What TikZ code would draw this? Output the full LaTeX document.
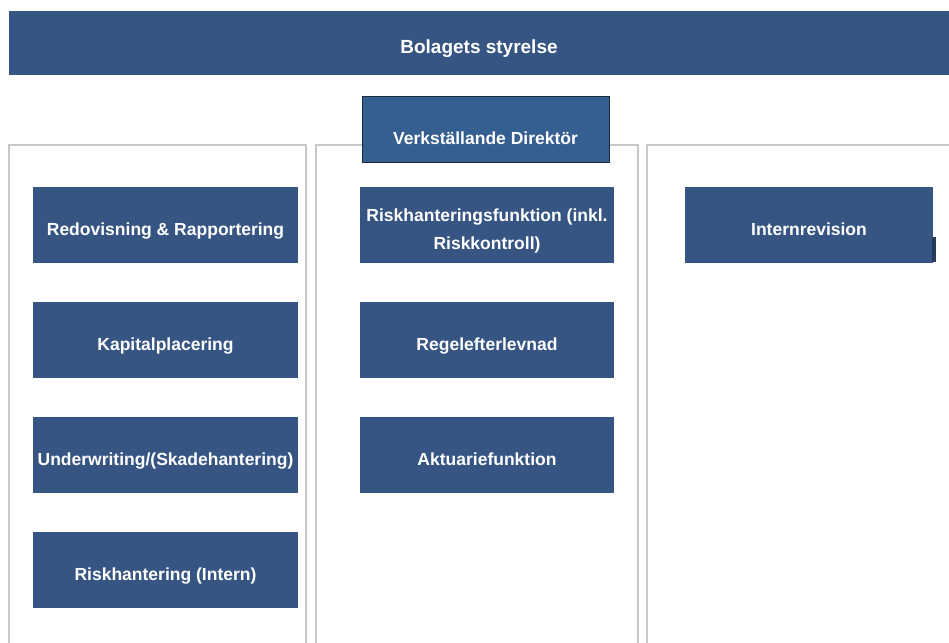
\documentclass[tikz,border=0pt]{standalone}
\usepackage{fontspec}
\setmainfont{Liberation Sans}
\definecolor{boxblue}{RGB}{55,85,131}
\definecolor{vdblue}{RGB}{53,94,145}
\definecolor{vdedge}{RGB}{30,42,60}
\definecolor{colgray}{RGB}{200,200,200}
\begin{document}
\begin{tikzpicture}[x=1pt,y=-1pt,
  unit/.style={fill=boxblue, draw=none, text=white, font=\bfseries\fontsize{17.5}{28}\selectfont,
    align=center, inner sep=0pt, minimum height=76pt, text height=22pt, text depth=1pt},
  leftbox/.style={unit, minimum width=265pt},
  midbox/.style={unit, minimum width=254pt},
  rightbox/.style={unit, minimum width=248pt},
  colframe/.style={draw=colgray, line width=2pt},
  txt/.style={text=white, font=\bfseries\fontsize{17.5}{28}\selectfont, inner sep=0pt}]
\useasboundingbox (0,0) rectangle (949,642);
% banner
\node[fill=boxblue, minimum width=940pt, minimum height=64pt, inner sep=0pt,
  text height=23pt, text depth=1.3pt,
  text=white, font=\bfseries\fontsize{19}{22}\selectfont] (board) at (479,43) {Bolagets styrelse};
% column frames
\draw[colframe] (9,660) -- (9,145) -- (306,145) -- (306,660);
\draw[colframe] (316,660) -- (316,145) -- (638,145) -- (638,660);
\draw[colframe] (647,660) -- (647,145) -- (960,145);
% VD
\node[fill=vdblue, draw=vdedge, line width=1pt, minimum width=247pt, minimum height=66pt, inner sep=0pt] (vd) at (485.5,129) {};
\node[txt] (vdtext) at (485.5,138) {Verkställande Direktör};
% left column
\node[leftbox] (redo) at (165.5,225) {Redovisning \& Rapportering};
\node[leftbox] (kap) at (165.5,340) {Kapitalplacering};
\node[leftbox] (under) at (165.5,455) {Underwriting/(Skadehantering)};
\node[leftbox] (riskint) at (165.5,570) {Riskhantering (Intern)};
% middle column
\node[midbox, text height=50pt, text depth=1pt] (riskfn) at (487,225) {Riskhanteringsfunktion (inkl.\\Riskkontroll)};
\node[midbox] (regel) at (487,340) {Regelefterlevnad};
\node[midbox] (akt) at (487,455) {Aktuariefunktion};
% right column
\node[rightbox] (intrev) at (809,225) {Internrevision};
\fill[boxblue!70!black] (932,237) rectangle (936,262);
\end{tikzpicture}
\end{document}
